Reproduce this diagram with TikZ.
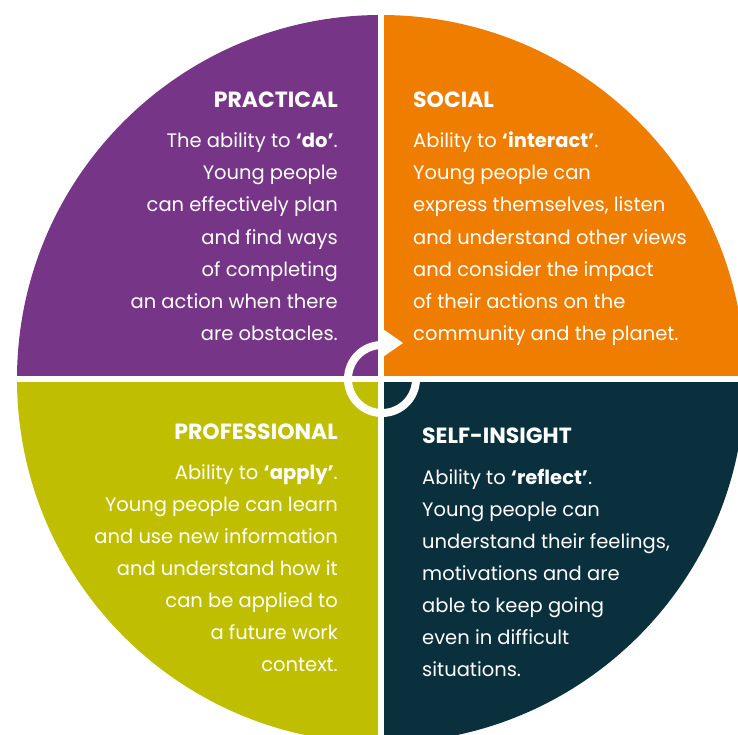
\documentclass[tikz,border=0pt]{standalone}
\usepackage{fontspec}
\setmainfont{Poppins}
\definecolor{cpurple}{HTML}{763586}
\definecolor{corange}{HTML}{EF7D00}
\definecolor{colive}{HTML}{BFBE00}
\definecolor{cdark}{HTML}{0A2F3D}
\begin{document}
\begin{tikzpicture}[x=1pt,y=-1pt,
  body/.style={text=white, font=\fontsize{19.5}{32}\selectfont, inner sep=0pt},
  ttl/.style={text=white, font=\fontsize{22}{26}\selectfont\bfseries, inner sep=0pt},
  gap/.style={fill=white}]
\useasboundingbox (0,0) rectangle (738,735);
\clip (0,0) rectangle (738,735);
\coordinate (c) at (381,379);
\begin{scope}\clip (0,0) rectangle (381,379); \fill[cpurple] (c) circle[radius=364]; \end{scope}
\begin{scope}\clip (381,0) rectangle (738,379); \fill[corange] (c) circle[radius=364]; \end{scope}
\begin{scope}\clip (0,379) rectangle (381,735); \fill[colive] (c) circle[radius=364]; \end{scope}
\begin{scope}\clip (381,379) rectangle (738,735); \fill[cdark] (c) circle[radius=364]; \end{scope}
\fill[gap] (378,0) rectangle (384,735);
\fill[gap] (0,376) rectangle (738,382);
% ring with arrow
\coordinate (rc) at (382,379);
\coordinate (rs) at (416,379);
\draw[white, line width=8pt] (rs) arc[start angle=0, end angle=270, radius=34];
\coordinate (ha) at (380,327);
\coordinate (ht) at (403,343);
\coordinate (hb) at (380,359);
\fill[white] (ha) -- (ht) -- (hb) -- cycle;
% PRACTICAL
\node[ttl, anchor=base east] (pt) at (338,108) {PRACTICAL};
\node[body, anchor=base east] (p1) at (338,148) {The ability to \textbf{‘do’}.};
\node[body, anchor=base east] (p2) at (338,180) {Young people};
\node[body, anchor=base east] (p3) at (338,212) {can effectively plan};
\node[body, anchor=base east] (p4) at (338,244) {and find ways};
\node[body, anchor=base east] (p5) at (338,276) {of completing};
\node[body, anchor=base east] (p6) at (338,308) {an action when there};
\node[body, anchor=base east] (p7) at (338,340) {are obstacles.};
% SOCIAL
\node[ttl, anchor=base west] (st) at (413,108) {SOCIAL};
\node[body, anchor=base west] (s1) at (413,148) {Ability to \textbf{‘interact’}.};
\node[body, anchor=base west] (s2) at (413,180) {Young people can};
\node[body, anchor=base west] (s3) at (413,212) {express themselves, listen};
\node[body, anchor=base west] (s4) at (413,244) {and understand other views};
\node[body, anchor=base west] (s5) at (413,276) {and consider the impact};
\node[body, anchor=base west] (s6) at (413,308) {of their actions on the};
\node[body, anchor=base west] (s7) at (413,340) {community and the planet.};
% PROFESSIONAL
\node[ttl, anchor=base east] (rt) at (338,439) {PROFESSIONAL};
\node[body, anchor=base east] (r1) at (338,479) {Ability to \textbf{‘apply’}.};
\node[body, anchor=base east] (r2) at (338,511) {Young people can learn};
\node[body, anchor=base east] (r3) at (338,543) {and use new information};
\node[body, anchor=base east] (r4) at (338,575) {and understand how it};
\node[body, anchor=base east] (r5) at (338,607) {can be applied to};
\node[body, anchor=base east] (r6) at (338,639) {a future work};
\node[body, anchor=base east] (r7) at (338,671) {context.};
% SELF-INSIGHT
\node[ttl, anchor=base west] (it) at (422,443) {SELF-INSIGHT};
\node[body, anchor=base west] (i1) at (422,484) {Ability to \textbf{‘reflect’}.};
\node[body, anchor=base west] (i2) at (422,516) {Young people can};
\node[body, anchor=base west] (i3) at (422,548) {understand their feelings,};
\node[body, anchor=base west] (i4) at (422,580) {motivations and are};
\node[body, anchor=base west] (i5) at (422,612) {able to keep going};
\node[body, anchor=base west] (i6) at (422,644) {even in difficult};
\node[body, anchor=base west] (i7) at (422,676) {situations.};
\end{tikzpicture}
\end{document}
